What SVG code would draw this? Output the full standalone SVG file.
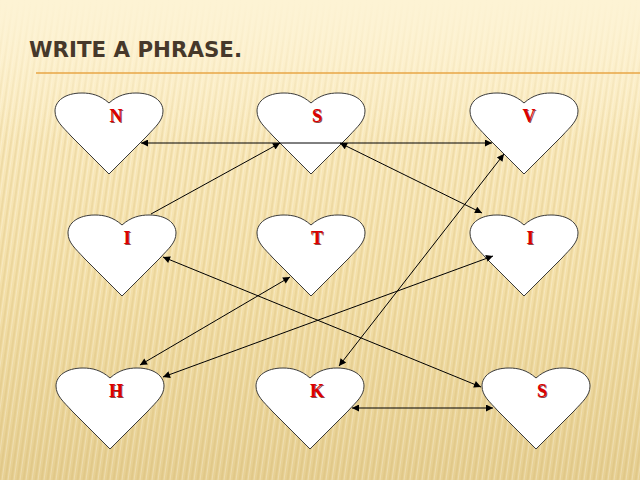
<svg xmlns="http://www.w3.org/2000/svg" width="640" height="480" viewBox="0 0 640 480">
<defs>
<linearGradient id="bg" x1="0" y1="0" x2="0" y2="1">
<stop offset="0" stop-color="#fdf2d2"/>
<stop offset="0.15" stop-color="#fbecc2"/>
<stop offset="0.6" stop-color="#f3dfa8"/>
<stop offset="1" stop-color="#e6cf92"/>
</linearGradient>
<pattern id="stripes" width="6" height="480" patternUnits="userSpaceOnUse" patternTransform="skewX(-8)">
<rect x="0" y="0" width="2" height="480" fill="#c9a85a" opacity="0.18"/>
<rect x="3" y="0" width="1" height="480" fill="#ffffff" opacity="0.25"/>
</pattern>
<linearGradient id="fade" x1="0" y1="0" x2="0" y2="1">
<stop offset="0" stop-color="#fdf3d4" stop-opacity="1"/>
<stop offset="0.12" stop-color="#fdf3d4" stop-opacity="0.6"/>
<stop offset="0.3" stop-color="#fdf3d4" stop-opacity="0"/>
</linearGradient>
<marker id="ah" viewBox="0 0 10 10" refX="10" refY="5" markerWidth="9" markerHeight="7" markerUnits="userSpaceOnUse" orient="auto-start-reverse">
<path d="M0,0 L10,5 L0,10 Z" fill="#000"/>
</marker>
<path id="heart" d="M0,10 C9,2 18,0 27,0 C44,0 54,8 54,18 C54,28 46,34 38,43 L0,81 L-38,43 C-46,34 -54,28 -54,18 C-54,8 -44,0 -27,0 C-18,0 -9,2 0,10 Z"/>
</defs>
<style>
.heart{fill:#ffffff;stroke:#3a3a3a;stroke-width:1}
.lt{font-family:"Liberation Serif","Times New Roman",serif;font-weight:bold;font-size:18px;text-anchor:middle}
.lt .sh{fill:#5a0000;opacity:0.7}
.lt .fg{fill:#dd0000}
.con line{stroke:#000;stroke-width:1;fill:none}
.dbl{marker-start:url(#ah);marker-end:url(#ah)}
.sgl{marker-end:url(#ah)}
</style>
<rect width="640" height="480" fill="url(#bg)"/>
<rect width="640" height="480" fill="url(#stripes)"/>
<rect width="640" height="480" fill="url(#fade)"/>
<text x="29" y="57" font-family="'DejaVu Sans','Verdana',sans-serif" font-weight="bold" font-size="20.5" fill="#46382a" textLength="213" lengthAdjust="spacingAndGlyphs">WRITE A PHRASE.</text>
<line x1="36" y1="73" x2="640" y2="73" stroke="#e9a646" stroke-width="1.5"/>

<g id="node-N" transform="translate(109,93)"><use href="#heart" class="heart"/><g class="lt"><text class="sh" x="8" y="30">N</text><text class="fg" x="7" y="29">N</text></g></g>
<g id="node-S1" transform="translate(311,93)"><use href="#heart" class="heart"/><g class="lt"><text class="sh" x="7" y="30">S</text><text class="fg" x="6" y="29">S</text></g></g>
<g id="node-V" transform="translate(524,93)"><use href="#heart" class="heart"/><g class="lt"><text class="sh" x="6" y="30">V</text><text class="fg" x="5" y="29">V</text></g></g>
<g id="node-I1" transform="translate(122,215)"><use href="#heart" class="heart"/><g class="lt"><text class="sh" x="6" y="30">I</text><text class="fg" x="5" y="29">I</text></g></g>
<g id="node-T" transform="translate(311,215)"><use href="#heart" class="heart"/><g class="lt"><text class="sh" x="7" y="30">T</text><text class="fg" x="6" y="29">T</text></g></g>
<g id="node-I2" transform="translate(524,215)"><use href="#heart" class="heart"/><g class="lt"><text class="sh" x="7" y="30">I</text><text class="fg" x="6" y="29">I</text></g></g>
<g id="node-H" transform="translate(110,368)"><use href="#heart" class="heart"/><g class="lt"><text class="sh" x="7" y="30">H</text><text class="fg" x="6" y="29">H</text></g></g>
<g id="node-K" transform="translate(310,368)"><use href="#heart" class="heart"/><g class="lt"><text class="sh" x="8" y="30">K</text><text class="fg" x="7" y="29">K</text></g></g>
<g id="node-S2" transform="translate(536,368)"><use href="#heart" class="heart"/><g class="lt"><text class="sh" x="7" y="30">S</text><text class="fg" x="6" y="29">S</text></g></g>

<g id="connectors" class="con">
<line class="dbl" x1="141" y1="143" x2="492" y2="143"/>
<line class="sgl" x1="151" y1="214" x2="280" y2="143"/>
<line class="dbl" x1="340" y1="143" x2="482" y2="213"/>
<line class="dbl" x1="339" y1="366" x2="504" y2="154"/>
<line class="dbl" x1="163" y1="257" x2="481" y2="387"/>
<line class="dbl" x1="290" y1="277" x2="140" y2="365"/>
<line class="dbl" x1="493" y1="256" x2="163" y2="377"/>
<line class="dbl" x1="352" y1="408" x2="493" y2="408"/>
</g>
</svg>
